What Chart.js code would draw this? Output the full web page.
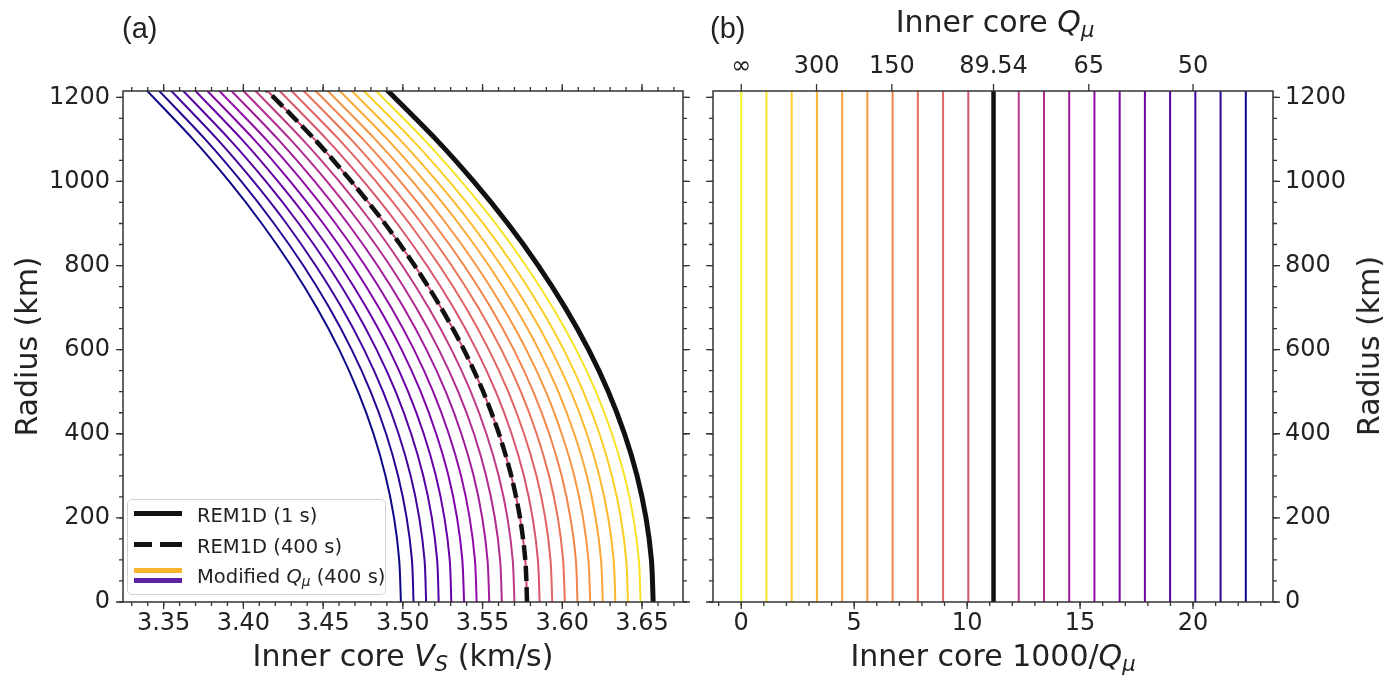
<!DOCTYPE html>
<html><head><meta charset="utf-8">
<script src="https://cdn.jsdelivr.net/npm/chart.js@4.4.1/dist/chart.umd.min.js"></script>
<style>
html,body{margin:0;padding:0;background:#fff;}
#wrap{position:relative;width:1393px;height:677px;overflow:hidden;font-family:'DejaVu Sans';color:#222;}
canvas{position:absolute;top:0;}
.t{position:absolute;white-space:nowrap;line-height:1;font-family:'DejaVu Sans';color:#222;}
.t sub{font-size:70%;vertical-align:-0.25em;line-height:0;}
.bar{position:absolute;}
</style></head><body>
<div id="wrap">
<canvas id="cA" width="700" height="677" style="left:0px"></canvas>
<canvas id="cB" width="693" height="677" style="left:700px"></canvas>

<div class="t" style="font-family:'Liberation Sans';font-size:29px;left:122px;top:14px;">(a)</div>
<div class="t" style="font-family:'Liberation Sans';font-size:29px;left:710px;top:14px;">(b)</div>
<div class="t" style="font-size:30px;left:403px;top:641px;transform:translateX(-50%);">Inner core <i>V</i><sub><i>S</i></sub> (km/s)</div>
<div class="t" style="font-size:30px;left:993px;top:641px;transform:translateX(-50%);">Inner core 1000/<i>Q</i><sub><i>μ</i></sub></div>
<div class="t" style="font-size:30px;left:995px;top:7px;transform:translateX(-50%);">Inner core <i>Q</i><sub><i>μ</i></sub></div>
<div class="t" style="font-size:30px;left:1369px;top:346px;transform:translate(-50%,-50%) rotate(-90deg);">Radius (km)</div>

<div style="position:absolute;left:127px;top:499px;width:257px;height:94px;border:1px solid #d2d2d2;border-radius:5px;background:rgba(255,255,255,0.85);"></div>
<div class="bar" style="left:134px;top:511px;width:48px;height:5px;background:#111;"></div>
<div class="bar" style="left:134px;top:542px;width:18px;height:5px;background:#111;"></div>
<div class="bar" style="left:160px;top:542px;width:22px;height:5px;background:#111;"></div>
<div class="bar" style="left:134px;top:568px;width:48px;height:5px;background:#f7b52c;"></div>
<div class="bar" style="left:134px;top:578px;width:48px;height:5px;background:#5b22a3;"></div>
<div class="t" style="font-size:19.5px;left:197px;top:506px;">REM1D (1 s)</div>
<div class="t" style="font-size:19.5px;left:197px;top:537px;">REM1D (400 s)</div>
<div class="t" style="font-size:19.5px;left:197px;top:567px;">Modified <i>Q</i><sub><i>μ</i></sub> (400 s)</div>
</div>
<script>
// ---------------- data ----------------
const radiusKm = [0, 100, 200, 300, 400, 500, 600, 700, 800, 900, 1000, 1100, 1221.5];

const vsRem1d1s   = [3.6570, 3.6559, 3.6525, 3.6469, 3.6390, 3.6289, 3.6165, 3.6018, 3.5849, 3.5658, 3.5444, 3.5208, 3.4890];
const vsRem1d400s = [3.5779, 3.5768, 3.5735, 3.5680, 3.5603, 3.5504, 3.5383, 3.5239, 3.5074, 3.4887, 3.4677, 3.4447, 3.4135];

const vsModQ00 = [3.6570, 3.6559, 3.6525, 3.6469, 3.6390, 3.6289, 3.6165, 3.6018, 3.5849, 3.5658, 3.5444, 3.5208, 3.4890];
const vsModQ01 = [3.6491, 3.6480, 3.6446, 3.6390, 3.6311, 3.6211, 3.6087, 3.5940, 3.5771, 3.5581, 3.5367, 3.5132, 3.4815];
const vsModQ02 = [3.6412, 3.6401, 3.6367, 3.6311, 3.6233, 3.6132, 3.6009, 3.5862, 3.5694, 3.5504, 3.5291, 3.5056, 3.4739];
const vsModQ03 = [3.6333, 3.6322, 3.6288, 3.6232, 3.6154, 3.6054, 3.5930, 3.5784, 3.5616, 3.5427, 3.5214, 3.4980, 3.4664];
const vsModQ04 = [3.6254, 3.6243, 3.6209, 3.6154, 3.6075, 3.5975, 3.5852, 3.5706, 3.5539, 3.5350, 3.5137, 3.4903, 3.4588];
const vsModQ05 = [3.6175, 3.6164, 3.6130, 3.6075, 3.5996, 3.5897, 3.5774, 3.5628, 3.5461, 3.5272, 3.5061, 3.4827, 3.4513];
const vsModQ06 = [3.6095, 3.6085, 3.6051, 3.5996, 3.5918, 3.5818, 3.5696, 3.5551, 3.5384, 3.5195, 3.4984, 3.4751, 3.4437];
const vsModQ07 = [3.6016, 3.6005, 3.5972, 3.5917, 3.5839, 3.5740, 3.5618, 3.5473, 3.5306, 3.5118, 3.4907, 3.4675, 3.4362];
const vsModQ08 = [3.5937, 3.5926, 3.5893, 3.5838, 3.5760, 3.5661, 3.5539, 3.5395, 3.5229, 3.5041, 3.4831, 3.4599, 3.4286];
const vsModQ09 = [3.5858, 3.5847, 3.5814, 3.5759, 3.5682, 3.5583, 3.5461, 3.5317, 3.5151, 3.4964, 3.4754, 3.4523, 3.4211];
const vsModQ10 = [3.5779, 3.5768, 3.5735, 3.5680, 3.5603, 3.5504, 3.5383, 3.5239, 3.5074, 3.4887, 3.4677, 3.4447, 3.4135];
const vsModQ11 = [3.5700, 3.5689, 3.5656, 3.5601, 3.5524, 3.5426, 3.5305, 3.5161, 3.4996, 3.4810, 3.4601, 3.4370, 3.4060];
const vsModQ12 = [3.5621, 3.5610, 3.5577, 3.5522, 3.5446, 3.5347, 3.5226, 3.5083, 3.4919, 3.4732, 3.4524, 3.4294, 3.3984];
const vsModQ13 = [3.5542, 3.5531, 3.5498, 3.5444, 3.5367, 3.5269, 3.5148, 3.5005, 3.4841, 3.4655, 3.4447, 3.4218, 3.3909];
const vsModQ14 = [3.5463, 3.5452, 3.5419, 3.5365, 3.5288, 3.5190, 3.5070, 3.4927, 3.4763, 3.4578, 3.4371, 3.4142, 3.3833];
const vsModQ15 = [3.5384, 3.5373, 3.5340, 3.5286, 3.5209, 3.5112, 3.4992, 3.4849, 3.4686, 3.4501, 3.4294, 3.4066, 3.3758];
const vsModQ16 = [3.5304, 3.5294, 3.5261, 3.5207, 3.5131, 3.5033, 3.4914, 3.4771, 3.4608, 3.4424, 3.4217, 3.3990, 3.3683];
const vsModQ17 = [3.5225, 3.5215, 3.5182, 3.5128, 3.5052, 3.4955, 3.4835, 3.4694, 3.4531, 3.4347, 3.4141, 3.3913, 3.3607];
const vsModQ18 = [3.5146, 3.5136, 3.5103, 3.5049, 3.4973, 3.4876, 3.4757, 3.4616, 3.4453, 3.4270, 3.4064, 3.3837, 3.3532];
const vsModQ19 = [3.5067, 3.5057, 3.5024, 3.4970, 3.4895, 3.4798, 3.4679, 3.4538, 3.4376, 3.4192, 3.3987, 3.3761, 3.3456];
const vsModQ20 = [3.4988, 3.4977, 3.4945, 3.4891, 3.4816, 3.4719, 3.4601, 3.4460, 3.4298, 3.4115, 3.3911, 3.3685, 3.3381];

const modQCurves = [vsModQ00, vsModQ01, vsModQ02, vsModQ03, vsModQ04, vsModQ05, vsModQ06,
  vsModQ07, vsModQ08, vsModQ09, vsModQ10, vsModQ11, vsModQ12, vsModQ13, vsModQ14,
  vsModQ15, vsModQ16, vsModQ17, vsModQ18, vsModQ19, vsModQ20];

// inner core 1000/Q for each modified model (panel b)
const invQMod = [0, 1.1168, 2.2336, 3.3505, 4.4673, 5.5841, 6.7009, 7.8177, 8.9346, 10.0514,
  11.1682, 12.2850, 13.4018, 14.5187, 15.6355, 16.7523, 17.8691, 18.9859, 20.1028, 21.2196, 22.3364];
const invQRem1d = 11.1682;
const radiusSpan = [0, 1221.5];

// tick labels
const vsTicks = [3.35, 3.40, 3.45, 3.50, 3.55, 3.60, 3.65];
const radiusTicks = [0, 200, 400, 600, 800, 1000, 1200];
const invQTicks = [0, 5, 10, 15, 20];
const qTopQ = [Infinity, 300, 150, 89.54, 65, 50];
const qTopLabels = ['∞', '300', '150', '89.54', '65', '50'];

// ---------------- styles ----------------
const curveColors = ['#f0f921', '#f7e225', '#fcce25', '#feb72d', '#fca636', '#f89540', '#f2844b',
  '#e97158', '#e16462', '#d6556d', '#cc4778', '#bf3984', '#b12a90', '#a11b9b', '#8f0da4',
  '#7e03a8', '#6a00a8', '#5601a4', '#41049d', '#2a0593', '#0d0887'];
const FONT = 'DejaVu Sans';
const TXT = '#222';

function steps(a, b, s) { const out = []; for (let v = a; v <= b + 1e-9; v += s) out.push(+v.toFixed(6)); return out; }
const qTopValues = qTopQ.map(q => 1000 / q);

function tickPlugin(specs) {
  return {
    id: 'frameTicks',
    afterDraw(chart) {
      const { ctx, chartArea: a } = chart;
      ctx.save();
      ctx.strokeStyle = '#333';
      ctx.lineWidth = 1.3;
      specs.forEach(t => {
        const sc = chart.scales[t.scale];
        ctx.beginPath();
        t.values.forEach(v => {
          const p = sc.getPixelForValue(v);
          if (sc.isHorizontal()) { if (p < a.left - 0.5 || p > a.right + 0.5) return; }
          else { if (p < a.top - 0.5 || p > a.bottom + 0.5) return; }
          t.sides.forEach(side => {
            if (side === 'bottom') { ctx.moveTo(p, a.bottom); ctx.lineTo(p, a.bottom + t.len); }
            if (side === 'top') { ctx.moveTo(p, a.top); ctx.lineTo(p, a.top - t.len); }
            if (side === 'left') { ctx.moveTo(a.left, p); ctx.lineTo(a.left - t.len, p); }
            if (side === 'right') { ctx.moveTo(a.right, p); ctx.lineTo(a.right + t.len, p); }
          });
        });
        ctx.stroke();
      });
      ctx.lineWidth = 1.5;
      ctx.strokeRect(a.left, a.top, a.right - a.left, a.bottom - a.top);
      ctx.restore();
    }
  };
}

const tickFont = { family: FONT, size: 24 };
const noGrid = { display: false, drawTicks: false };
const noBorder = { display: false };

// ---------------- panel (a) ----------------
const dsA = modQCurves.map((arr, i) => ({
  data: arr.map((v, k) => ({ x: v, y: radiusKm[k] })),
  borderColor: curveColors[i], borderWidth: 2, pointRadius: 0, tension: 0.3, order: 2, clip: 0
}));
dsA.push({
  data: vsRem1d400s.map((v, k) => ({ x: v, y: radiusKm[k] })),
  borderColor: '#111', borderWidth: 4.5, borderDash: [15, 6], pointRadius: 0, tension: 0.3, order: 1, clip: 0
});
dsA.push({
  data: vsRem1d1s.map((v, k) => ({ x: v, y: radiusKm[k] })),
  borderColor: '#111', borderWidth: 5, pointRadius: 0, tension: 0.3, order: 0, clip: 0
});

new Chart(document.getElementById('cA'), {
  type: 'line',
  data: { datasets: dsA },
  options: {
    responsive: false, animation: false, devicePixelRatio: 1,
    layout: { padding: { left: 0, right: 17, top: 91, bottom: 0 } },
    plugins: { legend: { display: false }, tooltip: { enabled: false } },
    scales: {
      x: {
        type: 'linear', position: 'bottom', min: 3.3245, max: 3.6757,
        grid: noGrid, border: noBorder,
        afterFit: s => { s.height = 75; },
        afterBuildTicks: s => { s.ticks = vsTicks.map(v => ({ value: v })); },
        ticks: { font: tickFont, color: TXT, padding: 7, maxRotation: 0, autoSkip: false, callback: v => v.toFixed(2) }
      },
      y: {
        type: 'linear', position: 'left', min: 0, max: 1215,
        grid: noGrid, border: noBorder,
        afterFit: s => { s.width = 123; },
        afterBuildTicks: s => { s.ticks = radiusTicks.map(v => ({ value: v })); },
        ticks: { font: tickFont, color: TXT, padding: 13, autoSkip: false, callback: v => String(v) },
        title: { display: true, text: 'Radius (km)', font: { family: FONT, size: 30 }, color: TXT, padding: { top: 11, bottom: 0 } }
      }
    }
  },
  plugins: [tickPlugin([
    { scale: 'x', values: vsTicks, len: 7, sides: ['bottom', 'top'] },
    { scale: 'x', values: steps(3.33, 3.67, 0.01), len: 4, sides: ['bottom', 'top'] },
    { scale: 'y', values: radiusTicks, len: 7, sides: ['left', 'right'] },
    { scale: 'y', values: steps(0, 1200, 50), len: 4, sides: ['left', 'right'] }
  ])]
});

// ---------------- panel (b) ----------------
const dsB = invQMod.map((q, i) => ({
  data: radiusSpan.map(r => ({ x: q, y: r })),
  borderColor: curveColors[i], borderWidth: 2, pointRadius: 0, order: 1, clip: 0
}));
dsB.push({
  data: radiusSpan.map(r => ({ x: invQRem1d, y: r })),
  borderColor: '#111', borderWidth: 4.5, pointRadius: 0, order: 0, clip: 0
});

new Chart(document.getElementById('cB'), {
  type: 'line',
  data: { datasets: dsB },
  options: {
    responsive: false, animation: false, devicePixelRatio: 1,
    layout: { padding: { left: 13, right: 0, top: 0, bottom: 0 } },
    plugins: { legend: { display: false }, tooltip: { enabled: false } },
    scales: {
      x: {
        type: 'linear', position: 'bottom', min: -1.25, max: 23.54,
        grid: noGrid, border: noBorder,
        afterFit: s => { s.height = 75; },
        afterBuildTicks: s => { s.ticks = invQTicks.map(v => ({ value: v })); },
        ticks: { font: tickFont, color: TXT, padding: 7, maxRotation: 0, autoSkip: false, callback: v => String(v) }
      },
      x2: {
        type: 'linear', position: 'top', axis: 'x', min: -1.25, max: 23.54,
        grid: noGrid, border: noBorder,
        afterFit: s => { s.height = 91; },
        afterBuildTicks: s => { s.ticks = qTopValues.map(v => ({ value: v })); },
        ticks: { font: tickFont, color: TXT, padding: 10, maxRotation: 0, autoSkip: false, callback: (v, i) => qTopLabels[i] }
      },
      y: {
        type: 'linear', position: 'right', min: 0, max: 1215,
        grid: noGrid, border: noBorder,
        afterFit: s => { s.width = 120; },
        afterBuildTicks: s => { s.ticks = radiusTicks.map(v => ({ value: v })); },
        ticks: { font: tickFont, color: TXT, padding: 12, autoSkip: false, callback: v => String(v) }
      }
    }
  },
  plugins: [tickPlugin([
    { scale: 'x', values: invQTicks, len: 7, sides: ['bottom'] },
    { scale: 'x', values: steps(-1, 23, 1), len: 4, sides: ['bottom'] },
    { scale: 'x2', values: qTopValues, len: 7, sides: ['top'] },
    { scale: 'y', values: radiusTicks, len: 7, sides: ['left', 'right'] },
    { scale: 'y', values: steps(0, 1200, 50), len: 4, sides: ['left', 'right'] }
  ])]
});
</script>
</body></html>
